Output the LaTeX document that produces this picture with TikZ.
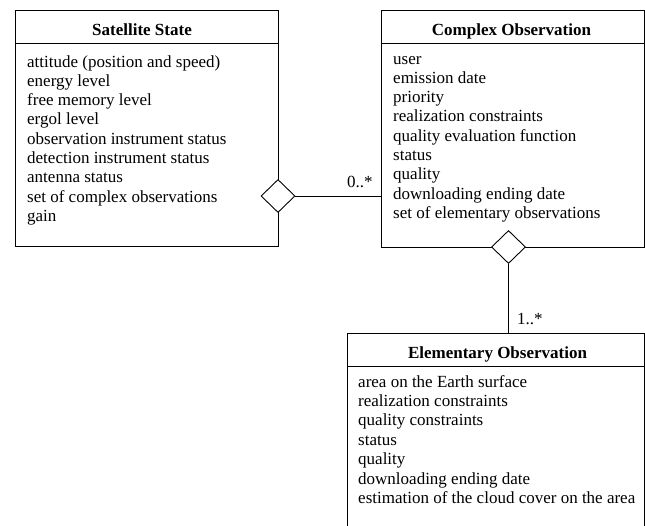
\documentclass[tikz,border=0pt]{standalone}
\usepackage{fontspec}
\setmainfont{Liberation Serif}
\usetikzlibrary{shapes.geometric}
\begin{document}
\begin{tikzpicture}[x=1pt,y=-1pt,
  box/.style={draw,line width=0.9pt,rectangle,inner sep=0pt,anchor=north west},
  attr/.style={anchor=base west,inner sep=0pt,font=\fontsize{17}{19.3}\selectfont},
  ttl/.style={anchor=base,inner sep=0pt,font=\fontsize{17}{19.3}\selectfont\bfseries},
  mult/.style={anchor=base west,inner sep=0pt,font=\fontsize{17}{19.3}\selectfont},
  agg/.style={draw,line width=0.9pt,diamond,fill=white,inner sep=0pt,minimum width=34pt,minimum height=33pt},
  conn/.style={line width=0.9pt}]
\useasboundingbox (0,0) rectangle (645,525);
\clip (0,0) rectangle (645,525);
% Satellite State
\node[box,minimum width=263pt,minimum height=236pt] (sat) at (15,10) {};
\draw[conn] (15,43) -- (278,43);
\node[ttl] (satt) at (142,35) {Satellite State};
\foreach \t [count=\i] in {attitude (position and speed),energy level,free memory level,ergol level,observation instrument status,detection instrument status,antenna status,set of complex observations,gain}
  \node[attr] (sa\i) at (27,{67+19.3*(\i-1)}) {\t};
% Complex Observation
\node[box,minimum width=263pt,minimum height=237pt] (cx) at (381,10) {};
\draw[conn] (381,43) -- (644,43);
\node[ttl] (cxt) at (511.5,35) {Complex Observation};
\foreach \t [count=\i] in {user,emission date,priority,realization constraints,quality evaluation function,status,quality,downloading ending date,set of elementary observations}
  \node[attr] (ca\i) at (393,{64+19.3*(\i-1)}) {\t};
% Elementary Observation
\node[box,minimum width=297pt,minimum height=215pt] (el) at (347,333) {};
\draw[conn] (347,366) -- (644,366);
\node[ttl] (elt) at (497.5,358) {Elementary Observation};
\foreach \t [count=\i] in {area on the Earth surface,realization constraints,quality constraints,status,quality,downloading ending date,estimation of the cloud cover on the area}
  \node[attr] (ea\i) at (358,{387+19.4*(\i-1)}) {\t};
% aggregations
\node[agg] (d1) at (278,196) {};
\draw[conn] (d1.east) -- (d1.east -| cx.west);
\node[mult] (m1) at (347,187) {0..*};
\node[agg] (d2) at (508.5,247) {};
\draw[conn] (d2.south) -- (d2.south |- el.north);
\node[mult] (m2) at (517,324) {1..*};
\end{tikzpicture}
\end{document}
